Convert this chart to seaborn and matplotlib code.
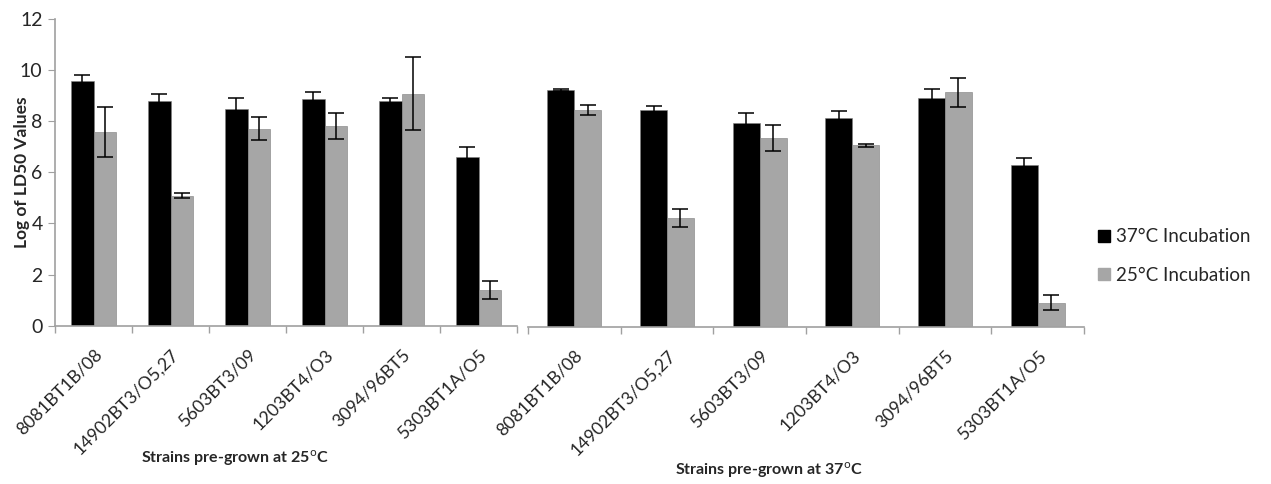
"""LD50 values of strains pre-grown at 25 and 37 C, incubated at 37 or 25 C."""
import matplotlib
matplotlib.use("Agg")
import matplotlib.pyplot as plt
import matplotlib.transforms as mtransforms
import pandas as pd
import seaborn as sns
from matplotlib.lines import Line2D

strains = ["8081BT1B/08", "14902BT3/O5,27", "5603BT3/09", "1203BT4/O3", "3094/96BT5", "5303BT1A/O5"]
series = ["37°C Incubation", "25°C Incubation"]

# strains pre-grown at 25 C
pre25_inc37 = [9.59, 8.80, 8.49, 8.87, 8.80, 6.58]
pre25_inc37_err = [0.20, 0.26, 0.42, 0.27, 0.10, 0.40]
pre25_inc25 = [7.58, 5.09, 7.70, 7.80, 9.08, 1.40]
pre25_inc25_err = [0.98, 0.10, 0.45, 0.51, 1.42, 0.36]

# strains pre-grown at 37 C
pre37_inc37 = [9.21, 8.45, 7.94, 8.14, 8.92, 6.29]
pre37_inc37_err = [0.04, 0.15, 0.38, 0.27, 0.35, 0.30]
pre37_inc25 = [8.45, 4.23, 7.36, 7.07, 9.13, 0.93]
pre37_inc25_err = [0.20, 0.34, 0.52, 0.05, 0.57, 0.29]

panel_titles = ["Strains pre-grown at 25$^{\\mathrm{o}}$C", "Strains pre-grown at 37$^{\\mathrm{o}}$C"]

COLORS = ["#000000", "#A6A6A6"]
AXIS_GREY = "#A0A0A0"

sns.set_style("white")
plt.rcParams["font.family"] = ["Lato", "DejaVu Sans"]


def make_frame(v37, e37, v25, e25):
    return pd.DataFrame({
        "strain": strains * 2,
        "incubation": [series[0]] * len(strains) + [series[1]] * len(strains),
        "value": v37 + v25,
        "err": e37 + e25,
    })


def draw_panel(ax, df, show_y):
    sns.barplot(data=df, x="strain", y="value", hue="incubation", order=strains,
                hue_order=series, palette=COLORS, width=0.58, gap=0,
                errorbar=None, saturation=1, legend=False, ax=ax,
                edgecolor="#7f7f7f", linewidth=0.4)
    # error bars placed on the bar centres
    for patch, (_, row) in zip(ax.patches, df.iterrows()):
        xc = patch.get_x() + patch.get_width() / 2
        ax.errorbar(xc, row["value"], yerr=row["err"], fmt="none", ecolor="black",
                    elinewidth=1.1, capsize=6, capthick=1.1)
    ax.set_ylim(0, 12)
    ax.set_xlim(-0.5, len(strains) - 0.5)
    ax.set_xlabel("")
    ax.set_ylabel("")
    ax.set_xticks(range(len(strains)))
    ax.set_xticklabels(strains, rotation=45, ha="right", va="top",
                       rotation_mode="anchor", fontsize=12.8)
    shift = mtransforms.ScaledTranslation(-9 / 100, 0, ax.figure.dpi_scale_trans)
    for lab in ax.get_xticklabels():
        lab.set_transform(lab.get_transform() + shift)
    ax.set_xticks([i - 0.5 for i in range(len(strains) + 1)], minor=True)
    ax.tick_params(axis="x", which="major", length=0, pad=15)
    ax.tick_params(axis="x", which="minor", length=5, color=AXIS_GREY, width=1, bottom=True)
    for side in ["top", "right"]:
        ax.spines[side].set_visible(False)
    ax.spines["bottom"].set_color(AXIS_GREY)
    ax.spines["bottom"].set_linewidth(1.2)
    if show_y:
        ax.set_yticks(range(0, 13, 2))
        ax.tick_params(axis="y", length=5, color=AXIS_GREY, labelsize=14, left=True, pad=4)
        ax.spines["left"].set_color(AXIS_GREY)
        ax.spines["left"].set_linewidth(1.2)
    else:
        ax.set_yticks([])
        ax.spines["left"].set_visible(False)


fig = plt.figure(figsize=(12.71, 4.84), dpi=100)
ax1 = fig.add_axes([0.0433, 0.327, 0.3635, 0.634])
ax2 = fig.add_axes([0.4154, 0.325, 0.4375, 0.636])

draw_panel(ax1, make_frame(pre25_inc37, pre25_inc37_err, pre25_inc25, pre25_inc25_err), True)
draw_panel(ax2, make_frame(pre37_inc37, pre37_inc37_err, pre37_inc25, pre37_inc25_err), False)

fig.text(235 / 1271, 1 - 458 / 484, panel_titles[0], ha="center", va="center",
         fontsize=11.5, fontweight="bold")
fig.text(769 / 1271, 1 - 470 / 484, panel_titles[1], ha="center", va="center",
         fontsize=11.5, fontweight="bold")
fig.text(22 / 1271, 1 - 172 / 484, "Log of LD50 Values", rotation=90, ha="center",
         va="center", fontsize=12.5, fontweight="bold")

handles = [Line2D([], [], marker="s", linestyle="none", markersize=9,
                  markerfacecolor=c, markeredgecolor=c) for c in COLORS]
fig.legend(handles, series, loc="center left", bbox_to_anchor=(1078 / 1271, 1 - 256 / 484),
           frameon=False, fontsize=13.5, handletextpad=0.1, labelspacing=1.15,
           handlelength=1.0)

fig.savefig("out.png", dpi=100)
